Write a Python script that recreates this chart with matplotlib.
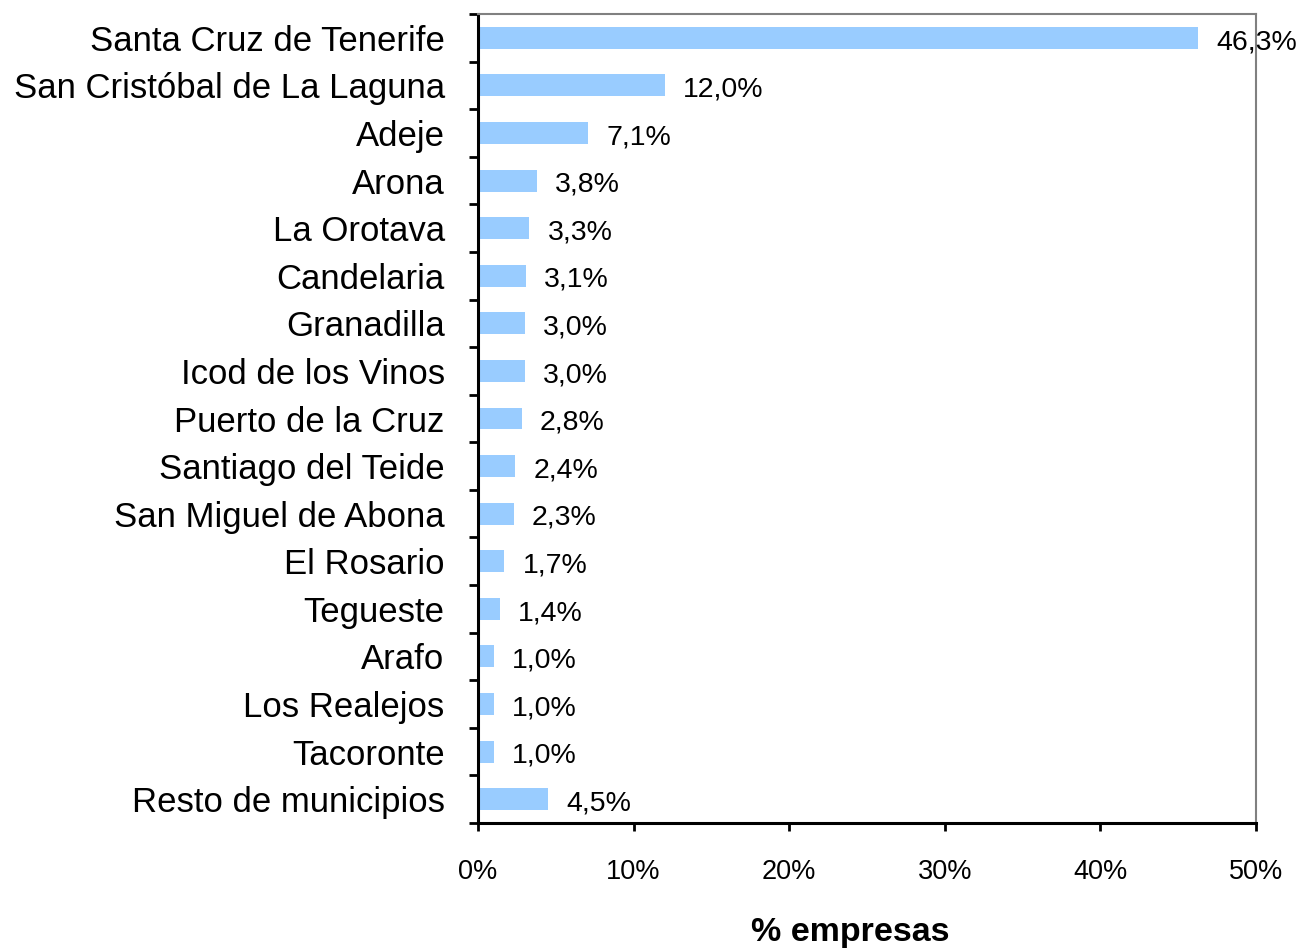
import matplotlib
matplotlib.use('Agg')
import matplotlib.pyplot as plt
from matplotlib.ticker import FixedLocator

plt.rcParams['font.family'] = ['Liberation Sans', 'DejaVu Sans']

# Datos: % de empresas por municipio
municipios = ['Santa Cruz de Tenerife', 'San Cristóbal de La Laguna', 'Adeje', 'Arona',
              'La Orotava', 'Candelaria', 'Granadilla', 'Icod de los Vinos',
              'Puerto de la Cruz', 'Santiago del Teide', 'San Miguel de Abona',
              'El Rosario', 'Tegueste', 'Arafo', 'Los Realejos', 'Tacoronte',
              'Resto de municipios']
porcentajes = [46.3, 12.0, 7.1, 3.8, 3.3, 3.1, 3.0, 3.0, 2.8, 2.4, 2.3,
               1.7, 1.4, 1.0, 1.0, 1.0, 4.5]
xticks = [0, 10, 20, 30, 40, 50]

fig = plt.figure(figsize=(13.01, 9.49), dpi=100)
ax = fig.add_axes([0.3674, 0.1328, 0.5980, 0.8524])

n = len(municipios)
ypos = list(range(n))
ax.barh(ypos, porcentajes, height=0.46, color='#99CCFF', edgecolor='none')
ax.set_ylim(n - 0.5, -0.5)
ax.set_xlim(0, 50)

# Etiquetas de valores
for y, v in zip(ypos, porcentajes):
    ax.annotate(f'{v:.1f}%'.replace('.', ','), (v, y), xytext=(13, -3),
                textcoords='offset points', va='center', ha='left', fontsize=20.5)

# Eje Y: nombres en el centro, marcas en los límites
ax.set_yticks(ypos)
ax.set_yticklabels(municipios, fontsize=25)
ax.yaxis.set_minor_locator(FixedLocator([i - 0.5 for i in range(n + 1)]))
ax.tick_params(axis='y', which='major', length=0, pad=24)
ax.tick_params(axis='y', which='minor', length=6.5, width=2, direction='out')

# Eje X
ax.set_xticks(xticks)
ax.set_xticklabels([f'{t}%' for t in xticks], fontsize=19.5)
ax.tick_params(axis='x', length=6, width=2, direction='out', pad=20)

for s in ['left', 'bottom']:
    ax.spines[s].set_linewidth(2.2)
    ax.spines[s].set_color('black')
for s in ['top', 'right']:
    ax.spines[s].set_linewidth(1.5)
    ax.spines[s].set_color('#808080')

fig.text(850 / 1301, 1 - 933 / 949, '% empresas', ha='center', va='center',
         fontsize=24.5, fontweight='bold')

fig.savefig('out.png', dpi=100)
